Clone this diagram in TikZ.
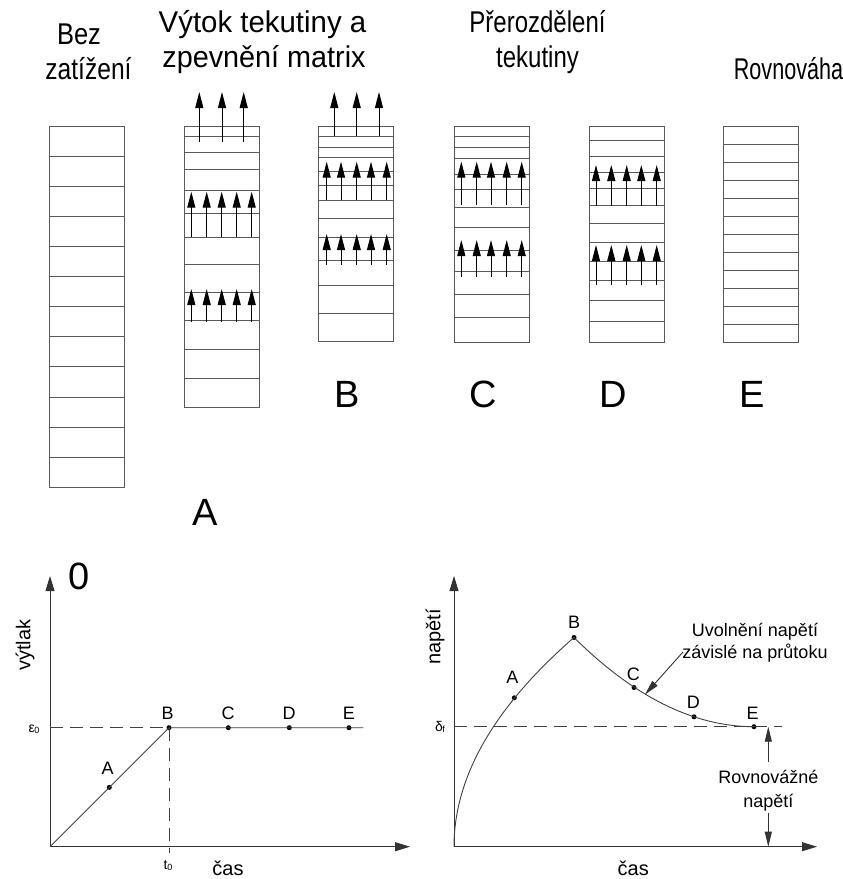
\documentclass[tikz,border=0pt]{standalone}
\usepackage{fontspec}
\setmainfont{Liberation Sans}
\usetikzlibrary{arrows.meta}
\begin{document}
\begin{tikzpicture}[x=1pt,y=-1pt,
  cell/.style={draw=black!65, line width=0.9pt},
  flow/.style={draw=black, line width=1pt, -{Triangle[width=8pt,length=16pt]}},
  axis/.style={draw=black!80, line width=1pt, -{Triangle[width=9pt,length=15pt]}},
  note/.style={draw=black!80, line width=0.9pt, -{Triangle[width=7pt,length=15pt]}},
  curve/.style={draw=black!75, line width=0.9pt},
  guide/.style={draw=black!75, line width=0.9pt, dash pattern=on 13pt off 7pt},
  dot/.style={circle, fill=black, inner sep=0pt, minimum size=5pt},
  head/.style={font=\fontsize{30}{34}\selectfont, anchor=base, inner sep=0pt},
  letter/.style={font=\fontsize{38}{42}\selectfont, anchor=base, inner sep=0pt},
  lbl/.style={font=\fontsize{18}{21}\selectfont, anchor=base, inner sep=0pt},
  big/.style={font=\fontsize{20}{23}\selectfont, anchor=base, inner sep=0pt},
  sub/.style={font=\fontsize{14}{16}\selectfont, anchor=base, inner sep=0pt},
]
\useasboundingbox (0,0) rectangle (843,879);

% ---------- headings ----------
\node[head] (h0a) at (79,44) {\scalebox{0.85}[1]{Bez}};
\node[head] (h0b) at (88.5,79) {\scalebox{0.82}[1]{zatížení}};
\node[head] (hAa) at (262.5,32) {\scalebox{0.98}[1]{Výtok tekutiny a}};
\node[head] (hAb) at (264,67) {\scalebox{0.96}[1]{zpevnění matrix}};
\node[head] (hCa) at (537.5,32) {\scalebox{0.8}[1]{Přerozdělení}};
\node[head] (hCb) at (537.5,67) {\scalebox{0.8}[1]{tekutiny}};
\node[head] (hE) at (788.5,79) {\scalebox{0.72}[1]{Rovnováha}};

% ---------- column 0 ----------
\draw[cell] (49,126) rectangle (124,487.3);
\foreach \k in {1,...,11} \draw[cell] (49,{126+\k*30.11}) -- (124,{126+\k*30.11});

% ---------- column A ----------
\draw[cell] (184,126) rectangle (259,407.3);
\foreach \y in {136.7,152.7,169.7,190,213.3,237,264.3,292.3,320,349,378.3}
  \draw[cell] (184,\y) -- (259,\y);
\foreach \x in {199.3,222,243.7} \draw[flow] (\x,141.7) -- (\x,92);
\foreach \x in {191.3,206.7,221.7,236.7,251.7} {
  \draw[flow] (\x,237.3) -- (\x,191.7);
  \draw[flow] (\x,321.7) -- (\x,289);
}

% ---------- column B ----------
\draw[cell] (318.5,126) rectangle (393.5,341.7);
\foreach \y in {136,147,157.7,171,185.3,200,218.3,237.7,260.7,285,313.3}
  \draw[cell] (318.5,\y) -- (393.5,\y);
\foreach \x in {334.3,356.7,379} \draw[flow] (\x,136) -- (\x,92);
\foreach \x in {326.7,341,356.7,371,386.7} {
  \draw[flow] (\x,200) -- (\x,161.7);
  \draw[flow] (\x,265) -- (\x,234);
}

% ---------- column C ----------
\draw[cell] (454.3,126) rectangle (529.3,342.7);
\foreach \y in {136,147.3,158.5,174,189.3,207.5,227.5,250,271,294,317.7}
  \draw[cell] (454.3,\y) -- (529.3,\y);
\foreach \x in {461.3,476.7,491,506.7,521.7} {
  \draw[flow] (\x,205) -- (\x,161.7);
  \draw[flow] (\x,276.7) -- (\x,240);
}

% ---------- column D ----------
\draw[cell] (589,126) rectangle (664,342.7);
\foreach \y in {140.3,156,172.3,188.5,205.8,223.8,242,261.7,280.5,300.8,321}
  \draw[cell] (589,\y) -- (664,\y);
\foreach \x in {596,611.3,626.7,641.3,656.7} {
  \draw[flow] (\x,206) -- (\x,165);
  \draw[flow] (\x,285) -- (\x,245);
}

% ---------- column E ----------
\draw[cell] (723.5,126) rectangle (798.5,342.3);
\foreach \k in {1,...,11} \draw[cell] (723.5,{126+\k*18.02}) -- (798.5,{126+\k*18.02});

% ---------- column letters ----------
\node[letter] (l0) at (79,589) {0};
\node[letter] (lA) at (205,525) {A};
\node[letter] (lB) at (347,407) {B};
\node[letter] (lC) at (483,407) {C};
\node[letter] (lD) at (613,407) {D};
\node[letter] (lE) at (752,407) {E};

% ---------- left graph ----------
\coordinate (O1) at (50,846.7);
\coordinate (X1) at (410,846.7);
\coordinate (Y1) at (50,576);
\coordinate (e1) at (50,727.7);
\coordinate (T1) at (169,853);
\coordinate (F1) at (363.3,727.7);
\node[dot] (pA1) at (109.3,787.4) {};
\node[dot] (pB1) at (169,727.7) {};
\node[dot] (pC1) at (228.3,727.7) {};
\node[dot] (pD1) at (289.3,727.7) {};
\node[dot] (pE1) at (349,727.7) {};
\draw[axis] (O1) -- (X1);
\draw[axis] (O1) -- (Y1);
\draw[guide] (e1) -- (pB1.center);
\draw[guide] (pB1.center) -- (T1);
\draw[curve] (O1) -- (pB1.center) -- (F1);
\node[lbl] (tA1) at (107.7,774) {A};
\node[lbl] (tB1) at (167.7,719) {B};
\node[lbl] (tC1) at (228,719) {C};
\node[lbl] (tD1) at (289,719) {D};
\node[lbl] (tE1) at (349,719) {E};
\node[sub] (eps) at (34,732) {ε\kern-0.5pt\raisebox{-1pt}{\fontsize{9}{10}\selectfont 0}};
\node[sub] (t0) at (168,869) {t\raisebox{-1pt}{\fontsize{9}{10}\selectfont 0}};
\node[big] (cas1) at (228,875) {čas};
\node[big, anchor=center, rotate=90] (vyt) at (25,645) {výtlak};

% ---------- right graph ----------
\coordinate (O2) at (454,846.7);
\coordinate (X2) at (817,846.7);
\coordinate (Y2) at (454,576);
\coordinate (d1) at (454,726.7);
\coordinate (d2) at (782,726.7);
\node[dot] (pA2) at (514.3,697.8) {};
\node[dot] (pB2) at (574,637.5) {};
\node[dot] (pC2) at (634,687.5) {};
\node[dot] (pD2) at (694,716.8) {};
\node[dot] (pE2) at (754,726.7) {};
\draw[axis] (O2) -- (X2);
\draw[axis] (O2) -- (Y2);
\draw[guide] (d1) -- (d2);
\draw[curve] plot[domain=0:10.954, samples=80, smooth] ({454+\x*\x},{846.7-19.1*\x});
\draw[curve] (pB2.center) .. controls (634,696.9) and (694,726.7) .. (pE2.center);
\node[lbl] (tA2) at (512.3,683) {A};
\node[lbl] (tB2) at (574,628) {B};
\node[lbl] (tC2) at (633.3,680.5) {C};
\node[lbl] (tD2) at (693.3,708) {D};
\node[lbl] (tE2) at (752.7,719) {E};
\node[sub] (del) at (440,731) {δ\kern-0.5pt\raisebox{-1pt}{\fontsize{9}{10}\selectfont f}};
\node[big] (cas2) at (633.3,875) {čas};
\node[big, anchor=center, rotate=90] (nap) at (435,637) {napětí};
\node[lbl] (u1) at (755,636.7) {Uvolnění napětí};
\node[lbl] (u2) at (755,658) {závislé na průtoku};
\coordinate (uA) at (683,652);
\coordinate (uB) at (645,694.5);
\draw[note] (uA) -- (uB);
\node[lbl] (r1) at (768.3,783) {Rovnovážné};
\node[lbl] (r2) at (768.3,807) {napětí};
\coordinate (rU) at (768.3,762);
\coordinate (rD) at (768.3,813);
\coordinate (rT) at (768.3,726.7);
\coordinate (rB) at (768.3,846.7);
\draw[note] (rU) -- (rT);
\draw[note] (rD) -- (rB);
\end{tikzpicture}
\end{document}
